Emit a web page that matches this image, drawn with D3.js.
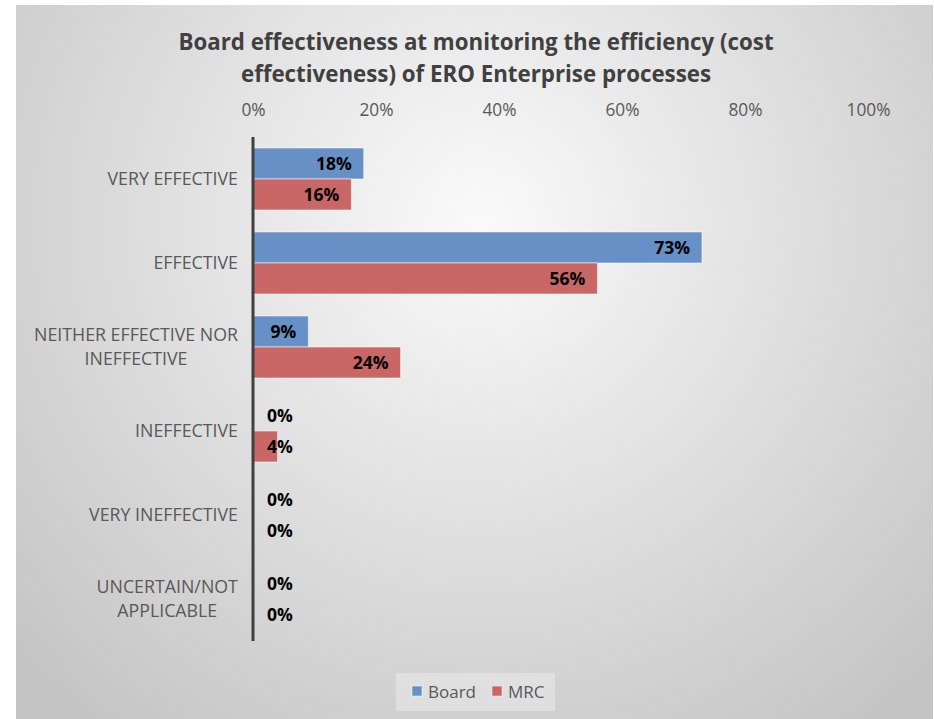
<!DOCTYPE html>
<html>
<head>
<meta charset="utf-8">
<script src="https://cdn.jsdelivr.net/npm/d3@7"></script>
<style>
  html, body { margin: 0; padding: 0; background: #ffffff; }
  svg { display: block; }
  text { font-family: "Open Sans", "Lato", "Liberation Sans", sans-serif; }
</style>
</head>
<body>
<svg id="chart" width="934" height="719"></svg>
<script>
// Survey categories (top to bottom)
const categories = [
  ["VERY EFFECTIVE"],
  ["EFFECTIVE"],
  ["NEITHER EFFECTIVE NOR", "INEFFECTIVE"],
  ["INEFFECTIVE"],
  ["VERY INEFFECTIVE"],
  ["UNCERTAIN/NOT", "APPLICABLE"]
];
const seriesNames = ["Board", "MRC"];
const boardValues = [18, 73, 9, 0, 0, 0];
const mrcValues = [16, 56, 24, 4, 0, 0];
const xTicks = [0, 20, 40, 60, 80, 100];
const titleLines = [
  "Board effectiveness at monitoring the efficiency (cost",
  "effectiveness) of ERO Enterprise processes"
];
const seriesColors = ["#6690c6", "#c86766"];

const svg = d3.select("#chart");
const W = 934, H = 719;

// Chart area background with a soft radial gradient
const defs = svg.append("defs");
const grad = defs.append("radialGradient")
  .attr("id", "bg")
  .attr("gradientUnits", "userSpaceOnUse")
  .attr("cx", 480).attr("cy", 220).attr("r", 640);
grad.append("stop").attr("offset", "0%").attr("stop-color", "#fafafa");
grad.append("stop").attr("offset", "100%").attr("stop-color", "#c4c4c4");

svg.append("rect")
  .attr("x", 16).attr("y", 5)
  .attr("width", W - 17).attr("height", H - 5)
  .attr("fill", "url(#bg)");

// Title
svg.append("g").selectAll("text")
  .data(titleLines)
  .join("text")
  .attr("x", 476)
  .attr("y", (d, i) => 50 + i * 32)
  .attr("text-anchor", "middle")
  .attr("font-size", 22.3)
  .attr("font-weight", "bold")
  .attr("fill", "#404040")
  .text(d => d);

// Scales
const x = d3.scaleLinear().domain([0, 100]).range([253, 868]);
const rows = d3.range(categories.length);
const y = d3.scaleBand().domain(rows).range([137, 641])
  .paddingInner(22 / 84).paddingOuter(11 / 84);
const ySub = d3.scaleBand().domain(seriesNames).range([0, y.bandwidth()]);

// Top axis tick labels
const xAxis = d3.axisTop(x).tickValues(xTicks).tickSize(0).tickPadding(0)
  .tickFormat(d => d + "%");
const gx = svg.append("g").attr("transform", "translate(0,116)").call(xAxis);
gx.select(".domain").remove();
gx.selectAll("text")
  .attr("font-size", 17.3)
  .attr("fill", "#595959")
  .attr("font-family", "'Open Sans', Lato, sans-serif");

// Category labels
const catG = svg.append("g");
rows.forEach(i => {
  const lines = categories[i];
  const cy = y(i) + y.bandwidth() / 2;
  const t = catG.append("text")
    .attr("font-size", 17.8)
    .attr("fill", "#595959")
    .attr("text-anchor", "middle");
  lines.forEach((ln, j) => {
    t.append("tspan")
      .attr("x", 0)
      .attr("y", cy + (j - (lines.length - 1) / 2) * 24 + 6)
      .text(ln);
  });
  const w = t.node().getBBox().width;
  t.attr("transform", `translate(${238 - w / 2},0)`);
});

// Bars
const series = [boardValues, mrcValues];
const barG = svg.append("g");
series.forEach((vals, s) => {
  barG.selectAll(null)
    .data(vals)
    .join("rect")
    .filter(d => d > 0)
    .attr("x", x(0))
    .attr("y", (d, i) => y(i) + ySub(seriesNames[s]))
    .attr("width", d => x(d) - x(0))
    .attr("height", ySub.bandwidth())
    .attr("fill", seriesColors[s])
    .attr("stroke", "rgba(255,255,255,0.55)")
    .attr("stroke-width", 1);
});

// Value labels
const labG = svg.append("g");
series.forEach((vals, s) => {
  vals.forEach((v, i) => {
    const t = labG.append("text")
      .attr("y", y(i) + ySub(seriesNames[s]) + ySub.bandwidth() / 2 + 6)
      .attr("font-size", 17.5)
      .attr("font-weight", "bold")
      .attr("fill", "#000000")
      .text(v + "%");
    const w = t.node().getComputedTextLength();
    t.attr("x", Math.max(x(v) - 12 - w, x(0) + 14));
  });
});

// Vertical category axis line
svg.append("line")
  .attr("x1", x(0)).attr("x2", x(0))
  .attr("y1", 137).attr("y2", 641)
  .attr("stroke", "#404040")
  .attr("stroke-width", 3);

// Legend
const leg = svg.append("g");
leg.append("rect")
  .attr("x", 396).attr("y", 673).attr("width", 159).attr("height", 38)
  .attr("fill", "rgba(255,255,255,0.3)");
const legItems = [{ name: "Board", x: 412 }, { name: "MRC", x: 492 }];
legItems.forEach((it, i) => {
  leg.append("rect")
    .attr("x", it.x).attr("y", 686).attr("width", 10).attr("height", 10)
    .attr("fill", seriesColors[i])
    .attr("stroke", "rgba(255,255,255,0.5)");
  leg.append("text")
    .attr("x", it.x + 16).attr("y", 698)
    .attr("font-size", 17)
    .attr("fill", "#595959")
    .text(it.name);
});
</script>
</body>
</html>
